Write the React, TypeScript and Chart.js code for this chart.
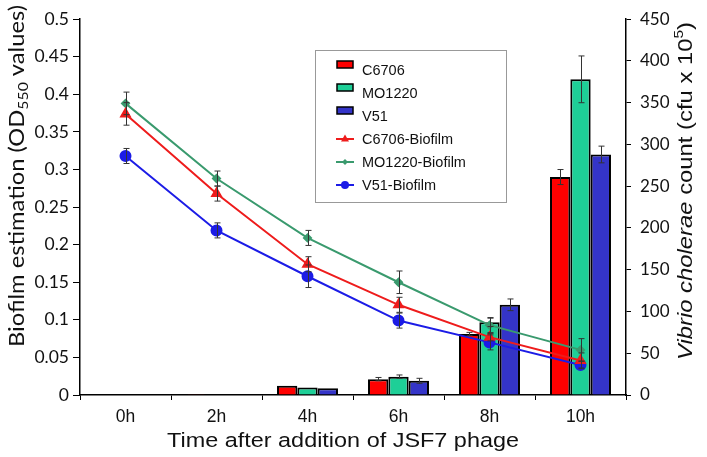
import React, { useEffect, useRef } from "react";
import { Chart, registerables } from "chart.js";

Chart.register(...registerables);

const categories = ["0h", "2h", "4h", "6h", "8h", "10h"];

// Bars (right axis, cfu x 10^5)
const c6706Count = [0, 1, 11, 19, 73, 261];
const c6706CountErr = [0, 0, 0, 2, 2, 9];
const mo1220Count = [0, 0, 9, 22, 87, 378];
const mo1220CountErr = [0, 0, 0, 2, 5, 28];
const v51Count = [0, 0, 8, 17, 108, 288];
const v51CountErr = [0, 0, 0, 3, 7, 10];

// Lines (left axis, OD550)
const c6706Biofilm = [0.374, 0.268, 0.174, 0.12, 0.077, 0.046];
const c6706BiofilmErr = [0.015, 0.01, 0.01, 0.01, 0.005, 0.01];
const mo1220Biofilm = [0.388, 0.288, 0.209, 0.15, 0.093, 0.06];
const mo1220BiofilmErr = [0.015, 0.01, 0.01, 0.015, 0.01, 0.015];
const v51Biofilm = [0.318, 0.219, 0.158, 0.099, 0.07, 0.04];
const v51BiofilmErr = [0.01, 0.01, 0.015, 0.01, 0.01, 0.005];

const RED = "#ff0000";
const TEAL = "#1ecf97";
const NAVY = "#3434c8";
const LRED = "#ee1c1c";
const LGREEN = "#3a9a6e";
const LBLUE = "#1c1ce6";

const TICK_FONT = "Lato";
const ARIAL = "'Liberation Sans', Arial, sans-serif";

type Seg = { t: string; font: string; dy?: number };

function drawRich(
  ctx: CanvasRenderingContext2D,
  segs: Seg[],
  cx: number,
  cy: number,
  rot: number,
  targetWidth?: number
) {
  ctx.save();
  ctx.translate(cx, cy);
  ctx.rotate(rot);
  let total = 0;
  for (const s of segs) {
    ctx.font = s.font;
    total += ctx.measureText(s.t).width;
  }
  if (targetWidth) ctx.scale(targetWidth / total, 1);
  let x = -total / 2;
  ctx.textBaseline = "middle";
  ctx.textAlign = "left";
  ctx.fillStyle = "#111";
  for (const s of segs) {
    ctx.font = s.font;
    ctx.fillText(s.t, x, s.dy || 0);
    x += ctx.measureText(s.t).width;
  }
  ctx.restore();
}

const overlayPlugin = {
  id: "overlay",
  afterDatasetsDraw(chart: any) {
    const ctx = chart.ctx as CanvasRenderingContext2D;
    ctx.save();
    ctx.strokeStyle = "#333";
    ctx.lineWidth = 1;
    chart.data.datasets.forEach((ds: any, i: number) => {
      const errs: number[] = ds.errors;
      if (!errs) return;
      const meta = chart.getDatasetMeta(i);
      const ys = chart.scales[ds.yAxisID];
      meta.data.forEach((el: any, j: number) => {
        const e = errs[j];
        if (!e) return;
        const v = ds.data[j];
        const x = Math.round(el.x) + 0.5;
        const y1 = ys.getPixelForValue(v + e);
        const y2 = ys.getPixelForValue(v - e);
        ctx.beginPath();
        ctx.moveTo(x, y1);
        ctx.lineTo(x, y2);
        ctx.moveTo(x - 3, y1);
        ctx.lineTo(x + 3, y1);
        ctx.moveTo(x - 3, y2);
        ctx.lineTo(x + 3, y2);
        ctx.stroke();
      });
    });
    ctx.restore();
  },
  afterDraw(chart: any) {
    const ctx = chart.ctx as CanvasRenderingContext2D;
    // Axis titles
    drawRich(
      ctx,
      [
        { t: "Biofilm estimation (OD", font: "21px Lato" },
        { t: "550", font: "14px Lato", dy: 6 },
        { t: " values)", font: "21px Lato" },
      ],
      17,
      176,
      -Math.PI / 2,
      342
    );
    drawRich(
      ctx,
      [
        { t: "Vibrio cholerae", font: "italic 20px " + ARIAL },
        { t: " count (cfu x 10", font: "20px " + ARIAL },
        { t: "5", font: "13px " + ARIAL, dy: -7 },
        { t: ")", font: "20px " + ARIAL },
      ],
      686,
      191,
      -Math.PI / 2,
      338
    );
    drawRich(ctx, [{ t: "Time after addition of JSF7 phage", font: "20.5px " + ARIAL }], 343, 441, 0, 352);

    // Legend
    ctx.save();
    ctx.strokeStyle = "#999";
    ctx.lineWidth = 1;
    ctx.fillStyle = "#fff";
    ctx.fillRect(315.5, 50.5, 191, 152);
    ctx.strokeRect(315.5, 50.5, 191, 152);
    const rows = [
      { label: "C6706", kind: "bar", color: RED },
      { label: "MO1220", kind: "bar", color: TEAL },
      { label: "V51", kind: "bar", color: NAVY },
      { label: "C6706-Biofilm", kind: "line", color: LRED, marker: "tri" },
      { label: "MO1220-Biofilm", kind: "line", color: LGREEN, marker: "dia" },
      { label: "V51-Biofilm", kind: "line", color: LBLUE, marker: "circ" },
    ];
    rows.forEach((r, i) => {
      const cy = 71 + i * 23;
      if (r.kind === "bar") {
        ctx.fillStyle = r.color;
        ctx.fillRect(337, cy - 10, 16, 7);
        ctx.strokeStyle = "#000";
        ctx.lineWidth = 1.5;
        ctx.strokeRect(337, cy - 10, 16, 7);
      } else {
        ctx.strokeStyle = r.color;
        ctx.fillStyle = r.color;
        ctx.lineWidth = 2;
        ctx.beginPath();
        ctx.moveTo(336, cy - 1);
        ctx.lineTo(354, cy - 1);
        ctx.stroke();
        const mx = 345, my = cy - 1;
        ctx.beginPath();
        if (r.marker === "tri") {
          ctx.moveTo(mx, my - 4.5);
          ctx.lineTo(mx + 4, my + 2.5);
          ctx.lineTo(mx - 4, my + 2.5);
          ctx.closePath();
        } else if (r.marker === "dia") {
          ctx.moveTo(mx, my - 3);
          ctx.lineTo(mx + 3, my);
          ctx.lineTo(mx, my + 3);
          ctx.lineTo(mx - 3, my);
          ctx.closePath();
        } else {
          ctx.arc(mx, my, 4, 0, Math.PI * 2);
        }
        ctx.fill();
      }
      ctx.fillStyle = "#111";
      ctx.font = "14.5px " + ARIAL;
      ctx.textBaseline = "middle";
      ctx.textAlign = "left";
      ctx.fillText(r.label, 362, cy);
    });
    ctx.restore();
  },
};

export default function App() {
  const ref = useRef<HTMLCanvasElement>(null);
  useEffect(() => {
    document.body.style.margin = "0";
    const barCommon = {
      type: "bar" as const,
      yAxisID: "yR",
      borderColor: "#000",
      borderWidth: 2,
      categoryPercentage: 0.67,
      barPercentage: 1.0,
      order: 2,
    };
    const lineCommon = {
      type: "line" as const,
      yAxisID: "yL",
      borderWidth: 2,
      tension: 0,
      order: 1,
    };
    const chart = new Chart(ref.current!, {
      type: "bar",
      data: {
        labels: categories,
        datasets: [
          { ...barCommon, label: "C6706", data: c6706Count, backgroundColor: RED, errors: c6706CountErr } as any,
          { ...barCommon, label: "MO1220", data: mo1220Count, backgroundColor: TEAL, errors: mo1220CountErr } as any,
          { ...barCommon, label: "V51", data: v51Count, backgroundColor: NAVY, errors: v51CountErr } as any,
          {
            ...lineCommon,
            label: "C6706-Biofilm",
            data: c6706Biofilm,
            borderColor: LRED,
            backgroundColor: LRED,
            pointStyle: "triangle",
            pointRadius: 5,
            errors: c6706BiofilmErr,
          } as any,
          {
            ...lineCommon,
            label: "MO1220-Biofilm",
            data: mo1220Biofilm,
            borderColor: LGREEN,
            backgroundColor: LGREEN,
            pointStyle: "rectRot",
            pointRadius: 3.5,
            errors: mo1220BiofilmErr,
          } as any,
          {
            ...lineCommon,
            label: "V51-Biofilm",
            data: v51Biofilm,
            borderColor: LBLUE,
            backgroundColor: LBLUE,
            pointStyle: "circle",
            pointRadius: 5,
            errors: v51BiofilmErr,
          } as any,
        ],
      },
      options: {
        responsive: false,
        animation: false,
        layout: { padding: { top: 7, left: 0, right: 0, bottom: 0 } },
        plugins: { legend: { display: false }, tooltip: { enabled: false } },
        scales: {
          x: {
            offset: true,
            grid: { display: true, drawOnChartArea: false, drawTicks: true, tickLength: 5, offset: true, color: "#000" },
            border: { display: true, color: "#000", width: 1.5 },
            ticks: { color: "#111", font: { family: ARIAL, size: 17.5 }, padding: 7 },
            afterFit: (s: any) => {
              s.height = 62;
            },
          },
          yL: {
            position: "left",
            min: 0,
            max: 0.5,
            grid: { display: true, drawOnChartArea: false, drawTicks: true, tickLength: 7, color: "#000" },
            border: { display: true, color: "#000", width: 1.5 },
            ticks: {
              stepSize: 0.05,
              color: "#111",
              font: { family: TICK_FONT, size: 17.5 },
              padding: 4,
              callback: (v: any) => String(Number(Number(v).toFixed(2))),
            },
            afterFit: (s: any) => {
              s.width = 80;
            },
          },
          yR: {
            position: "right",
            min: 0,
            max: 450,
            grid: { display: true, drawOnChartArea: false, drawTicks: true, tickLength: 5, color: "#000" },
            border: { display: true, color: "#000", width: 1.5 },
            ticks: { stepSize: 50, color: "#111", font: { family: TICK_FONT, size: 17 }, padding: 9 },
            afterFit: (s: any) => {
              s.width = 81;
            },
          },
        },
      },
      plugins: [overlayPlugin],
    });
    return () => chart.destroy();
  }, []);
  return (
    <div style={{ position: "absolute", left: 0, top: 0, width: 707, height: 457, background: "#fff" }}>
      <canvas ref={ref} width={707} height={457} style={{ width: 707, height: 457 }} />
    </div>
  );
}
